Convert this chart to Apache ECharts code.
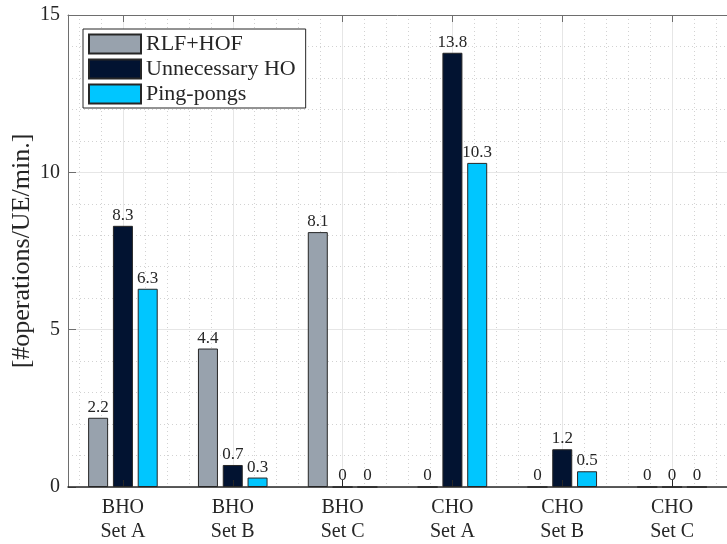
<!DOCTYPE html>
<html>
<head>
<meta charset="utf-8">
<script src="https://cdn.jsdelivr.net/npm/echarts@6/dist/echarts.min.js"></script>
<style>html,body{margin:0;padding:0;background:#fff}#c{width:727px;height:544px}</style>
</head>
<body>
<div id="c"></div>
<script>
var categories = ['BHO\nSet A', 'BHO\nSet B', 'BHO\nSet C', 'CHO\nSet A', 'CHO\nSet B', 'CHO\nSet C'];
var seriesNames = ['RLF+HOF', 'Unnecessary HO', 'Ping-pongs'];
var rlfHof = [2.2, 4.4, 8.1, 0, 0, 0];
var unnecessaryHo = [8.3, 0.7, 0, 13.8, 1.2, 0];
var pingPongs = [6.3, 0.3, 0, 10.3, 0.5, 0];
var yTicks = [0, 5, 10, 15];
var yTitle = '[#operations/UE/min.]';

var FONT = 'Liberation Serif';
var colors = ['#98a2ad', '#021331', '#00c6ff'];
var values = [rlfHof, unnecessaryHo, pingPongs];

var chart = echarts.init(document.getElementById('c'), null, {renderer: 'canvas'});
var series = seriesNames.map(function (name, i) {
  return {
    name: name,
    type: 'bar',
    xAxisIndex: 0,
    yAxisIndex: 0,
    data: values[i],
    barWidth: 20,
    barGap: '24%',
    itemStyle: {color: colors[i], borderColor: '#262626', borderWidth: 1},
    label: {
      show: true, position: 'top', distance: 2,
      fontFamily: FONT, fontSize: 17, color: '#262626',
      formatter: function (p) { return String(p.value); }
    },
    emphasis: {disabled: true}
  };
});

chart.setOption({
  animation: false,
  backgroundColor: '#fff',
  textStyle: {fontFamily: FONT},
  grid: {left: 68, top: 15, right: -9, bottom: 54, containLabel: false},
  legend: {
    data: seriesNames,
    orient: 'vertical',
    left: 83, top: 29,
    itemWidth: 52, itemHeight: 19, itemGap: 3,
    padding: [4, 10, 3, 5],
    icon: 'rect',
    borderColor: '#262626', borderWidth: 1,
    backgroundColor: '#fff',
    formatter: '{t|{name}}',
    textStyle: {
      fontFamily: FONT, fontSize: 22, color: '#262626',
      rich: {t: {fontFamily: FONT, fontSize: 22, color: '#262626'}}
    },
    selectedMode: false
  },
  xAxis: [
    {
      type: 'category',
      data: categories,
      position: 'bottom',
      z: 5,
      axisLine: {show: true, lineStyle: {color: '#262626', width: 1.5}},
      axisTick: {show: true, inside: true, alignWithLabel: true, length: 7, lineStyle: {color: '#262626'}},
      axisLabel: {fontFamily: FONT, fontSize: 20, color: '#262626', lineHeight: 24, margin: 9},
      splitLine: {show: false}
    },
    {
      type: 'value',
      min: 0.5, max: 6.5, splitNumber: 6,
      position: 'top',
      axisLine: {show: true, onZero: false, lineStyle: {color: '#6e6e6e', width: 1}},
      axisTick: {show: true, inside: true, length: 7, lineStyle: {color: '#6e6e6e'}},
      axisLabel: {show: false},
      splitLine: {show: true, lineStyle: {color: '#e6e6e6', width: 1}},
      minorTick: {show: false, splitNumber: 5},
      minorSplitLine: {show: true, lineStyle: {color: '#d2d2d2', width: 1, type: [1, 3]}}
    }
  ],
  yAxis: [{
    type: 'value',
    min: 0, max: 15, interval: 5,
    axisLine: {show: true, lineStyle: {color: '#6e6e6e', width: 1}},
    axisTick: {show: true, inside: true, length: 8, lineStyle: {color: '#6e6e6e'}},
    axisLabel: {fontFamily: FONT, fontSize: 20, color: '#262626', margin: 8,
      formatter: function (v) { return yTicks.indexOf(v) >= 0 ? String(v) : ''; }},
    splitLine: {show: true, lineStyle: {color: '#e6e6e6', width: 1}},
    minorTick: {show: false, splitNumber: 5},
    minorSplitLine: {show: true, lineStyle: {color: '#d2d2d2', width: 1, type: [1, 3]}},
    name: yTitle,
    nameLocation: 'middle',
    nameRotate: 90,
    nameGap: 33,
    nameMoveOverlap: false,
    nameTextStyle: {fontFamily: FONT, fontSize: 26, color: '#262626'}
  }],
  series: series
});
</script>
</body>
</html>
